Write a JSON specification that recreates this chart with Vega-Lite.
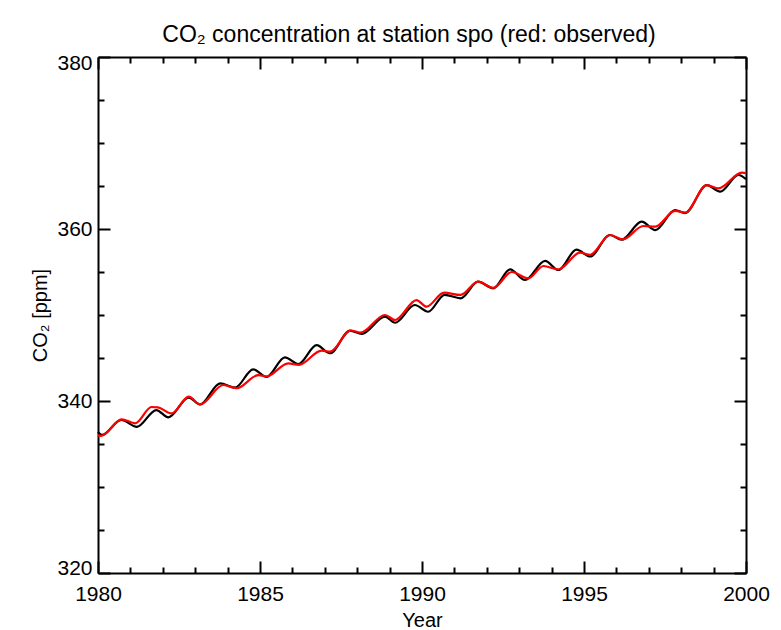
{
  "$schema": "https://vega.github.io/schema/vega-lite/v6.json",
  "width": 648,
  "height": 516,
  "autosize": {"type": "none"},
  "padding": {"left": 98, "top": 57, "right": 35, "bottom": 57},
  "background": "white",
  "config": {
    "view": {"stroke": null},
    "font": "Liberation Sans, Arial, sans-serif",
    "axis": {
      "grid": false,
      "domainColor": "black",
      "domainWidth": 2,
      "tickColor": "black",
      "tickWidth": 2,
      "labelColor": "black",
      "titleColor": "black",
      "labelFont": "Liberation Sans, Arial, sans-serif",
      "titleFont": "Liberation Sans, Arial, sans-serif",
      "labelFontWeight": "normal",
      "titleFontWeight": "normal",
      "labelOverlap": false
    }
  },
  "title": {
    "text": "CO₂ concentration at station spo (red: observed)",
    "font": "Liberation Sans, Arial, sans-serif",
    "fontSize": 23,
    "fontWeight": "normal",
    "color": "black",
    "anchor": "middle",
    "dx": -13,
    "baseline": "alphabetic",
    "offset": -13
  },
  "data": {
    "values": [
      {"series": "model", "year": 1980.0, "co2": 336.4},
      {"series": "model", "year": 1980.12, "co2": 336.05},
      {"series": "model", "year": 1980.72, "co2": 337.8},
      {"series": "model", "year": 1981.2, "co2": 337.0},
      {"series": "model", "year": 1981.8, "co2": 338.95},
      {"series": "model", "year": 1982.17, "co2": 338.1},
      {"series": "model", "year": 1982.8, "co2": 340.4},
      {"series": "model", "year": 1983.15, "co2": 339.6},
      {"series": "model", "year": 1983.77, "co2": 342.06},
      {"series": "model", "year": 1984.23, "co2": 341.55},
      {"series": "model", "year": 1984.79, "co2": 343.68},
      {"series": "model", "year": 1985.2, "co2": 342.8},
      {"series": "model", "year": 1985.77, "co2": 345.08},
      {"series": "model", "year": 1986.18, "co2": 344.3},
      {"series": "model", "year": 1986.75, "co2": 346.5},
      {"series": "model", "year": 1987.16, "co2": 345.55},
      {"series": "model", "year": 1987.78, "co2": 348.18},
      {"series": "model", "year": 1988.14, "co2": 347.8},
      {"series": "model", "year": 1988.86, "co2": 349.8},
      {"series": "model", "year": 1989.17, "co2": 349.1},
      {"series": "model", "year": 1989.78, "co2": 351.16},
      {"series": "model", "year": 1990.19, "co2": 350.38},
      {"series": "model", "year": 1990.7, "co2": 352.35},
      {"series": "model", "year": 1991.19, "co2": 351.94},
      {"series": "model", "year": 1991.73, "co2": 353.87},
      {"series": "model", "year": 1992.2, "co2": 353.1},
      {"series": "model", "year": 1992.72, "co2": 355.3},
      {"series": "model", "year": 1993.18, "co2": 354.07},
      {"series": "model", "year": 1993.8, "co2": 356.3},
      {"series": "model", "year": 1994.21, "co2": 355.23},
      {"series": "model", "year": 1994.77, "co2": 357.6},
      {"series": "model", "year": 1995.19, "co2": 356.8},
      {"series": "model", "year": 1995.8, "co2": 359.3},
      {"series": "model", "year": 1996.16, "co2": 358.75},
      {"series": "model", "year": 1996.78, "co2": 360.85},
      {"series": "model", "year": 1997.2, "co2": 359.88},
      {"series": "model", "year": 1997.81, "co2": 362.2},
      {"series": "model", "year": 1998.12, "co2": 361.85},
      {"series": "model", "year": 1998.79, "co2": 365.1},
      {"series": "model", "year": 1999.2, "co2": 364.34},
      {"series": "model", "year": 1999.77, "co2": 366.28},
      {"series": "model", "year": 2000.0, "co2": 365.8},
      {"series": "observed", "year": 1980.0, "co2": 336.0},
      {"series": "observed", "year": 1980.1, "co2": 335.95},
      {"series": "observed", "year": 1980.73, "co2": 337.87},
      {"series": "observed", "year": 1981.15, "co2": 337.4},
      {"series": "observed", "year": 1981.65, "co2": 339.3},
      {"series": "observed", "year": 1981.85, "co2": 339.25},
      {"series": "observed", "year": 1982.27, "co2": 338.55},
      {"series": "observed", "year": 1982.8, "co2": 340.5},
      {"series": "observed", "year": 1983.15, "co2": 339.6},
      {"series": "observed", "year": 1983.87, "co2": 341.86},
      {"series": "observed", "year": 1984.28, "co2": 341.48},
      {"series": "observed", "year": 1984.95, "co2": 343.02},
      {"series": "observed", "year": 1985.2, "co2": 342.85},
      {"series": "observed", "year": 1985.87, "co2": 344.38},
      {"series": "observed", "year": 1986.2, "co2": 344.2},
      {"series": "observed", "year": 1986.9, "co2": 345.85},
      {"series": "observed", "year": 1987.16, "co2": 345.73},
      {"series": "observed", "year": 1987.8, "co2": 348.2},
      {"series": "observed", "year": 1988.1, "co2": 347.95},
      {"series": "observed", "year": 1988.86, "co2": 350.0},
      {"series": "observed", "year": 1989.17, "co2": 349.42},
      {"series": "observed", "year": 1989.83, "co2": 351.74},
      {"series": "observed", "year": 1990.14, "co2": 350.97},
      {"series": "observed", "year": 1990.68, "co2": 352.6},
      {"series": "observed", "year": 1991.19, "co2": 352.33},
      {"series": "observed", "year": 1991.73, "co2": 353.87},
      {"series": "observed", "year": 1992.2, "co2": 353.15},
      {"series": "observed", "year": 1992.77, "co2": 355.0},
      {"series": "observed", "year": 1993.28, "co2": 354.26},
      {"series": "observed", "year": 1993.75, "co2": 355.7},
      {"series": "observed", "year": 1994.21, "co2": 355.3},
      {"series": "observed", "year": 1994.88, "co2": 357.25},
      {"series": "observed", "year": 1995.19, "co2": 357.0},
      {"series": "observed", "year": 1995.8, "co2": 359.3},
      {"series": "observed", "year": 1996.2, "co2": 358.8},
      {"series": "observed", "year": 1996.83, "co2": 360.35},
      {"series": "observed", "year": 1997.2, "co2": 360.27},
      {"series": "observed", "year": 1997.81, "co2": 362.1},
      {"series": "observed", "year": 1998.12, "co2": 361.9},
      {"series": "observed", "year": 1998.79, "co2": 365.1},
      {"series": "observed", "year": 1999.15, "co2": 364.73},
      {"series": "observed", "year": 1999.87, "co2": 366.55},
      {"series": "observed", "year": 2000.0, "co2": 366.5}
    ]
  },
  "layer": [
    {
      "mark": {"type": "line", "interpolate": "monotone", "strokeWidth": 2.2},
      "encoding": {
        "x": {
          "field": "year", "type": "quantitative",
          "scale": {"domain": [1980, 2000], "nice": false, "zero": false},
          "axis": {
            "orient": "bottom",
            "values": [1980,1981,1982,1983,1984,1985,1986,1987,1988,1989,1990,1991,1992,1993,1994,1995,1996,1997,1998,1999,2000],
            "format": "d",
            "labelExpr": "datum.value % 5 === 0 ? datum.label : ''",
            "labelFlush": false,
            "tickSize": {"expr": "datum.value % 5 === 0 ? -12 : -6"},
            "labelPadding": 22,
            "labelFontSize": 21,
            "title": "Year",
            "titleFontSize": 20,
            "titlePadding": 0
          }
        },
        "y": {
          "field": "co2", "type": "quantitative",
          "scale": {"domain": [320, 380], "nice": false, "zero": false},
          "axis": {
            "orient": "left",
            "values": [320,325,330,335,340,345,350,355,360,365,370,375,380],
            "format": "d",
            "labelExpr": "datum.value % 20 === 0 ? datum.label : ''",
            "tickSize": {"expr": "datum.value % 20 === 0 ? -12 : -6"},
            "labelPadding": 18,
            "labelFontSize": 21,
            "labelFlush": true,
            "labelFlushOffset": 5,
            "title": "CO₂ [ppm]",
            "titleFontSize": 20,
            "titlePadding": 6
          }
        },
        "color": {
          "field": "series", "type": "nominal",
          "scale": {"domain": ["model", "observed"], "range": ["black", "#ff0000"]},
          "legend": null
        }
      }
    },
    {
      "mark": {"type": "line", "interpolate": "monotone", "strokeWidth": 2, "opacity": 0},
      "encoding": {
        "x": {
          "field": "year", "type": "quantitative",
          "axis": {
            "orient": "top",
            "values": [1980,1981,1982,1983,1984,1985,1986,1987,1988,1989,1990,1991,1992,1993,1994,1995,1996,1997,1998,1999,2000],
            "labels": false,
            "tickSize": {"expr": "datum.value % 5 === 0 ? -12 : -6"},
            "title": null
          }
        },
        "y": {
          "field": "co2", "type": "quantitative",
          "axis": {
            "orient": "right",
            "values": [320,325,330,335,340,345,350,355,360,365,370,375,380],
            "labels": false,
            "tickSize": {"expr": "datum.value % 20 === 0 ? -12 : -6"},
            "title": null
          }
        },
        "detail": {"field": "series", "type": "nominal"}
      }
    }
  ],
  "resolve": {"axis": {"x": "independent", "y": "independent"}}
}
